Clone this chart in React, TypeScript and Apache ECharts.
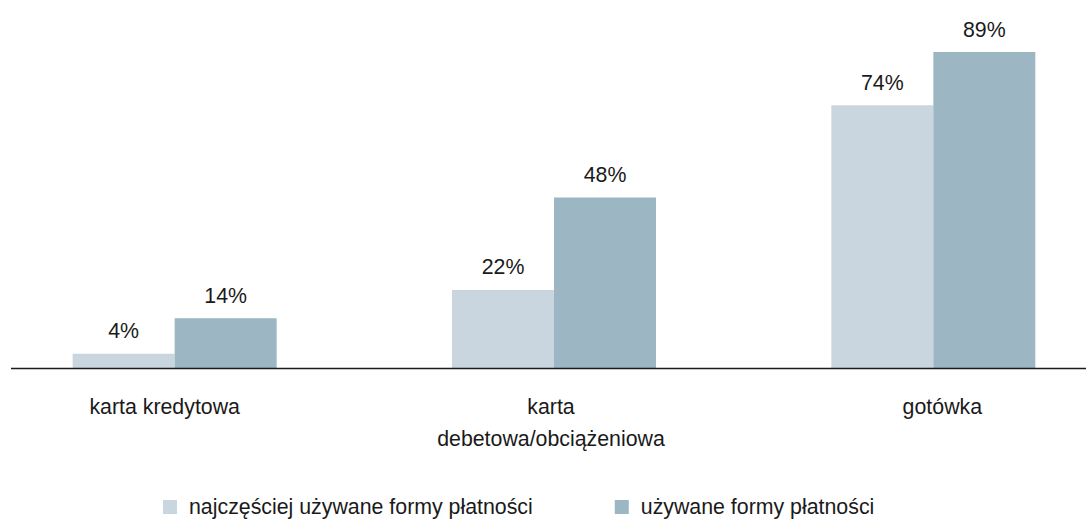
import React, { useEffect, useRef } from "react";
import * as echarts from "echarts";

const categories = ["karta kredytowa", "karta\ndebetowa/obciążeniowa", "gotówka"];
const seriesNames = ["najczęściej używane formy płatności", "używane formy płatności"];
const mostUsed = [4, 22, 74];
const used = [14, 48, 89];

const FONT = "'Liberation Sans', Arial, Helvetica, sans-serif";
const FS = 21.33;
const TEXT = "#1a1a1a";
const OFFSET = 15;
// horizontal nudges of the category labels (padding [top, right, bottom, left])
const labelPads = [
  [0, 20, 0, 0],
  [0, 6, 0, 0],
  [0, 0, 0, 18],
];

export default function App() {
  const ref = useRef<HTMLDivElement>(null);
  useEffect(() => {
    if (!ref.current) return;
    const chart = echarts.init(ref.current, undefined, { renderer: "svg" });
    const label = {
      show: true,
      position: "top",
      distance: 12,
      formatter: "{c}%",
      color: TEXT,
      fontSize: FS,
      fontFamily: FONT,
    };
    chart.setOption({
      animation: false,
      backgroundColor: "#ffffff",
      grid: { left: 0, width: 1138, top: 13, bottom: 152, containLabel: false },
      xAxis: {
        type: "category",
        data: categories.map((c, i) => ({ value: c, textStyle: { padding: labelPads[i] } })),
        axisLine: { show: false },
        axisTick: { show: false },
        axisLabel: {
          color: TEXT,
          fontSize: FS,
          fontFamily: FONT,
          lineHeight: 32,
          margin: 23,
          interval: 0,
        },
      },
      yAxis: {
        type: "value",
        min: 0,
        max: 100,
        show: false,
        splitLine: { show: false },
      },
      legend: {
        left: 163 + OFFSET,
        top: 496,
        padding: 0,
        icon: "rect",
        itemWidth: 14,
        itemHeight: 14,
        itemGap: 82,
        textStyle: {
          color: TEXT,
          fontSize: FS,
          fontFamily: FONT,
          lineHeight: 22,
          padding: [0, 0, 0, 7],
        },
        data: seriesNames,
      },
      graphic: [
        {
          type: "line",
          shape: { x1: 11 + OFFSET, y1: 368.5, x2: 1086 + OFFSET, y2: 368.5 },
          style: { stroke: "#1a1a1a", lineWidth: 1.6 },
          z: 10,
        },
      ],
      series: [
        {
          name: seriesNames[0],
          type: "bar",
          data: mostUsed,
          barWidth: 102,
          barGap: "0%",
          itemStyle: { color: "#C9D6DF" },
          label,
        },
        {
          name: seriesNames[1],
          type: "bar",
          data: used,
          barWidth: 102,
          barGap: "0%",
          itemStyle: { color: "#9DB6C3" },
          label,
        },
      ],
    });
    return () => chart.dispose();
  }, []);
  return (
    <div style={{ position: "fixed", left: 0, top: 0, width: 1086, height: 520, overflow: "hidden", background: "#fff" }}>
      <div
        ref={ref}
        style={{ position: "absolute", left: -OFFSET, top: 0, width: 1138, height: 520 }}
      />
    </div>
  );
}
